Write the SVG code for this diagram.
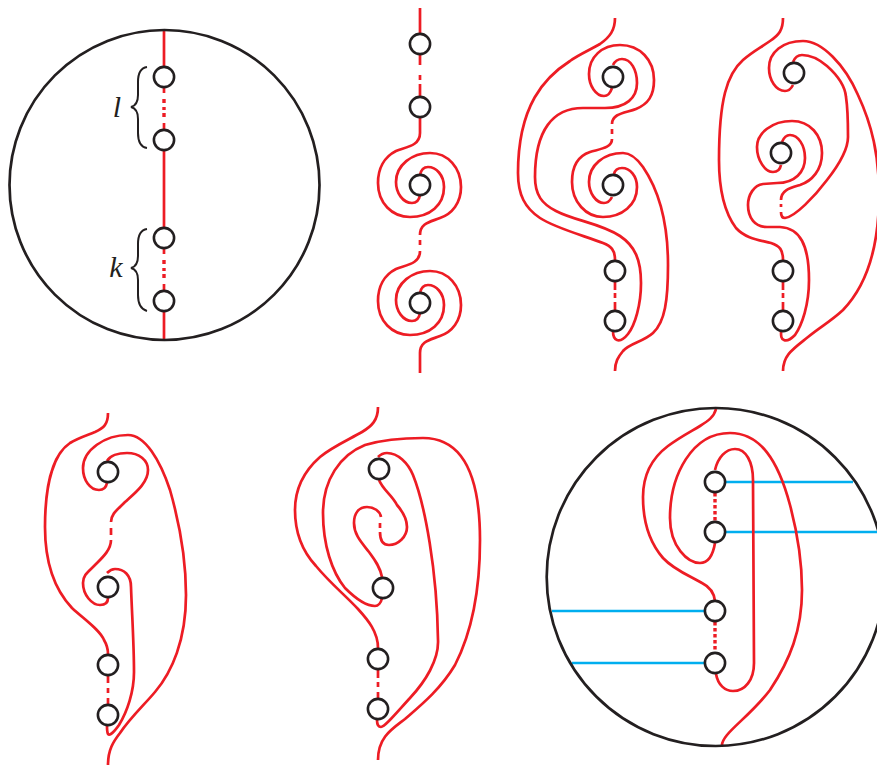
<svg xmlns="http://www.w3.org/2000/svg" width="877" height="766" viewBox="0 0 877 766">
<style>
.r{fill:none;stroke:#ed1c24;stroke-width:2.7;stroke-linecap:butt}
.d{fill:none;stroke:#ed1c24;stroke-width:3.4}
.b{fill:none;stroke:#00aeef;stroke-width:2.7}
.c{fill:#fff;stroke:#231f20;stroke-width:2.6}
.o{fill:none;stroke:#231f20;stroke-width:2.7}
.br{fill:none;stroke:#231f20;stroke-width:2}
.t{font-family:"Liberation Serif",serif;font-style:italic;font-size:30px;fill:#231f20;text-anchor:middle}
</style>
<defs>
<circle id="n" r="10.1" class="c"/>
<path id="s1" class="r" d="M420,133 C420,146 406,147 396,151 C384,157 378,169 378,183 C378,203 392,217 410,217 C430,217 444,205 444,187 C444,175 436,167 428,167 C424,167 421,170 420,175"/>
<path id="s2" class="r" d="M420,195 C419,201 416,203 412,203 C403,203 396,193 396,182 C396,165 412,153 430,153 C448,153 461,168 461,187 C461,203 452,214 440,218 C430,222 420,223 420,235"/>
</defs>
<g id="blue-arcs">
<path class="b" d="M726,482H853M726,532H877M552,611H705M572,663H705"/>
</g>
<g id="connectors">
<!-- panel 1 -->
<path class="r" d="M164,30V67M164,87V93M164,123V130M164,150V228M164,248V254M164,284V291M164,311V340"/>
<path class="d" d="M164,99V103M164,107V110M164,113V117M164,260V264M164,268V271M164,274V278"/>
<!-- panel 2 -->
<path class="r" d="M420,8V34M420,55V65M420,75V80M420,84V97M420,118V133"/>
<use href="#s1"/><use href="#s2"/>
<path class="r" d="M420,240V245"/>
<use href="#s1" y="118"/><use href="#s2" y="118"/>
<path class="r" d="M420,353V373"/>
<!-- panel 3 -->
<path class="r" d="M615,18 C615,30 610,37 600,44 C590,50 580,54 570,61 C545,77 518,105 518,173 C518,195 525,208 540,218 C555,228 585,236 603,243 C611,246 615,250 615,260"/>
<path class="r" d="M612,88 C610,94 608,96 604,96 C596,96 589,86 589,74 C589,57 602,45 620,45 C640,45 654,60 654,80 C654,96 648,104 636,109 C626,113 612,113 612,124 M612,129V134 M612,139 C612,148 600,149 590,152 C578,156 572,167 572,182 C572,202 586,217 603,217 C622,217 637,205 637,187 C637,176 630,168 622,168 C618,168 615,170 614,174"/>
<path class="r" d="M613,65 C615,61 618,59 622,59 C631,59 637,70 637,83 C637,98 626,108 605,108 L583,108 C553,108 535,130 535,177 C535,195 542,204 556,211 C575,221 600,223 620,236 C635,246 641,260 641,283 C641,305 635,325 628,334 C624,339 620,341 617,340 C614,339 613,336 613,331"/>
<path class="r" d="M612,197 C610,201 608,203 604,203 C596,203 589,193 589,182 C589,165 604,153 623,153 C632,153 638,160 643,167 C660,192 668,225 668,265 C668,300 665,322 653,333 C643,342 630,343 623,351 C618,357 615,362 615,371"/>
<path class="r" d="M615,281V290M615,293V298M615,302V311"/>
<!-- panel 4 -->
<path class="r" d="M783,18 C783,30 779,35 770,41 C760,48 752,52 743,60 C727,74 719,100 719,160 C719,190 724,212 736,228 C746,239 760,240 771,243 C780,246 783,250 783,260"/>
<path class="r" d="M793,85 C791,89 789,91 785,91 C776,91 769,80 769,68 C769,52 783,41 803,41 C822,41 845,65 858,95 C872,125 879,155 879,195 C879,250 866,286 843,310 C830,322 820,327 808,337 C793,349 783,355 783,371"/>
<path class="r" d="M793,62 C795,57 798,55 802,55 C812,55 820,60 827,66 C836,74 845,85 846,97 C848,110 848,125 848,137 C848,150 838,166 827,180 C815,196 795,217 785,218 C782,218 781,216 781,212 M781,204V207 M781,200 C781,190 790,188 800,185 C812,181 822,170 822,153 C822,135 810,121 792,121 C772,121 757,133 757,147 C757,160 765,172 773,172 C777,172 780,170 781,165"/>
<path class="r" d="M782,142 C784,137 787,135 790,135 C798,135 805,145 805,158 C805,172 795,183 777,183 L763,184 C754,185 748,195 748,205 C748,218 755,227 767,227 L780,227 C800,228 809,245 809,280 C809,305 802,325 795,335 C790,340 786,341 784,340 C781,339 781,336 781,331"/>
<path class="r" d="M783,281V290M783,293V298M783,302V311"/>
<!-- panel 5 -->
<path class="r" d="M108,413 C108,424 104,428 95,432 C85,436 78,438 70,443 C55,453 45,480 45,527 C45,565 55,590 72,608 C85,620 100,630 104,640 C107,645 108,648 108,654"/>
<path class="r" d="M107,483 C106,488 103,490 99,490 C90,490 83,480 83,468 C83,450 105,435 128,435 C145,435 160,460 170,490 C180,525 186,560 186,595 C186,640 172,672 155,692 C145,704 130,718 120,733 C113,742 108,750 108,765"/>
<path class="r" d="M107,461 C110,456 118,453 127,453 C139,453 148,460 148,470 C148,483 135,493 125,502 C117,510 111,514 111,522 M111,528V535 M111,540 C111,550 102,558 95,565 C88,572 83,575 83,583 C83,595 92,605 100,605 C105,605 108,603 108,598"/>
<path class="r" d="M107,573 C110,570 112,569 115,569 C124,569 131,575 131,587 C132,615 134,645 134,672 C134,692 127,712 119,725 C114,732 110,736 108,734 C107,732 107,729 107,726"/>
<path class="r" d="M108,676V683M108,688V693M108,698V705"/>
<!-- panel 6 -->
<path class="r" d="M378,407 C378,420 372,426 362,432 C348,440 332,447 320,457 C303,472 295,490 295,510 C295,535 303,552 316,566 C330,583 345,595 358,609 C368,620 378,632 378,648"/>
<path class="r" d="M382,598 C381,603 378,606 375,606 C365,606 355,598 345,588 C332,572 323,545 323,513 C323,480 340,455 365,445 C385,439 405,438 423,438 C465,438 480,480 480,540 C480,590 473,630 455,665 C440,690 420,706 405,719 C392,729 378,737 378,760"/>
<path class="r" d="M378,457 C381,454 384,453 387,453 C398,453 408,463 413,475 C425,505 437,570 438,640 C439,660 425,682 410,698 C398,711 385,727 381,727 C378,727 377,725 377,720"/>
<path class="r" d="M379,480 C383,490 392,495 397,505 C403,512 407,520 407,527 C407,537 398,545 389,545 C383,545 380,540 380,532 M380,523V528 M381,517 C380,511 374,507 367,507 C359,507 354,513 354,523 C354,535 362,543 369,552 C375,560 380,567 382,577"/>
<path class="r" d="M378,670V678M378,682V687M378,692V699"/>
<!-- panel 7 -->
<path class="r" d="M716,409 C714,417 708,421 700,426 C690,432 680,437 668,446 C652,458 643,475 643,497 C643,522 650,543 663,558 C674,570 690,576 702,583 C710,587 714,592 715,601"/>
<path class="r" d="M715,543 C713,555 708,563 700,563 C688,563 670,547 670,518 C670,475 692,433 730,433 C760,433 778,460 790,505 C798,535 802,560 802,590 C802,630 790,660 770,690 C755,710 735,725 727,735 C723,740 722,742 722,745"/>
<path class="r" d="M715,470 C718,457 726,449 735,449 C746,449 753,462 753,480 L754,663 C754,680 745,691 733,691 C725,691 718,685 716,674"/>
<path class="d" stroke-dasharray="3.5 2.5" d="M715,493V521M715,622V652"/>
</g>
<g id="disks">
<circle class="o" cx="164.5" cy="185" r="155"/>
<circle class="o" cx="715.7" cy="577" r="169"/>
</g>
<g id="braces">
<path class="br" d="M147,67 C140,68 138,74 138,82 L138,95 C138,102 135,106 131,107 C135,108 138,112 138,119 L138,133 C138,141 140,147 147,148"/>
<path class="br" d="M147,229 C140,230 138,236 138,244 L138,256 C138,263 135,267 131,268 C135,269 138,273 138,280 L138,295 C138,303 140,309 147,311"/>
<text class="t" x="117" y="117">l</text>
<text class="t" x="116" y="277">k</text>
</g>
<g id="n1"><use href="#n" x="164" y="77"/></g>
<g id="n2"><use href="#n" x="164" y="140"/></g>
<g id="n3"><use href="#n" x="164" y="238"/></g>
<g id="n4"><use href="#n" x="164" y="301"/></g>
<g id="n5"><use href="#n" x="420" y="44"/></g>
<g id="n6"><use href="#n" x="420" y="107"/></g>
<g id="n7"><use href="#n" x="420" y="185"/></g>
<g id="n8"><use href="#n" x="420" y="303"/></g>
<g id="n9"><use href="#n" x="613" y="77"/></g>
<g id="n10"><use href="#n" x="613" y="185"/></g>
<g id="n11"><use href="#n" x="615" y="271"/></g>
<g id="n12"><use href="#n" x="615" y="321"/></g>
<g id="n13"><use href="#n" x="794" y="73"/></g>
<g id="n14"><use href="#n" x="781" y="153"/></g>
<g id="n15"><use href="#n" x="783" y="271"/></g>
<g id="n16"><use href="#n" x="783" y="321"/></g>
<g id="n17"><use href="#n" x="108" y="472"/></g>
<g id="n18"><use href="#n" x="108" y="587"/></g>
<g id="n19"><use href="#n" x="108" y="665"/></g>
<g id="n20"><use href="#n" x="108" y="715"/></g>
<g id="n21"><use href="#n" x="379" y="469"/></g>
<g id="n22"><use href="#n" x="383" y="588"/></g>
<g id="n23"><use href="#n" x="378" y="659"/></g>
<g id="n24"><use href="#n" x="378" y="709"/></g>
<g id="n25"><use href="#n" x="715" y="482"/></g>
<g id="n26"><use href="#n" x="715" y="532"/></g>
<g id="n27"><use href="#n" x="715" y="611"/></g>
<g id="n28"><use href="#n" x="715" y="663"/></g>
</svg>
